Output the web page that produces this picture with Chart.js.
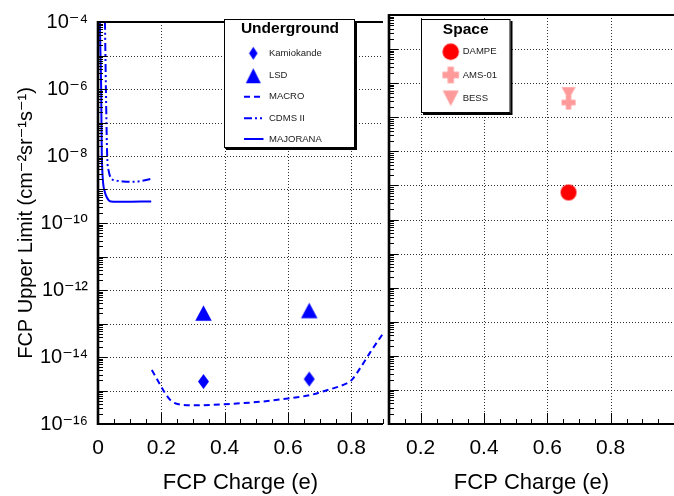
<!DOCTYPE html>
<html>
<head>
<meta charset="utf-8">
<script src="https://cdn.jsdelivr.net/npm/chart.js@4/dist/chart.umd.min.js"></script>
<style>
html,body{margin:0;padding:0;background:#fff;overflow:hidden;width:674px;height:496px;}
canvas{position:absolute;top:0;}
#cA{left:0;}
#cB{left:380px;}
</style>
</head>
<body>
<canvas id="cA" width="392" height="496"></canvas>
<canvas id="cB" width="303" height="496"></canvas>
<script>
// ---------------- data ----------------
const kamiokandeX = [0.333, 0.667];
const kamiokandeY = [1.85e-15, 2.2e-15];
const lsdX = [0.333, 0.667];
const lsdY = [2.05e-13, 2.45e-13];
const macroX = [0.17, 0.19, 0.21, 0.23, 0.26, 0.3, 0.4, 0.5, 0.6, 0.667, 0.72, 0.78, 0.8, 0.83, 0.86, 0.9];
const macroY = [4.1e-15, 1.9e-15, 8.9e-16, 5.0e-16, 3.8e-16, 3.6e-16, 3.9e-16, 4.5e-16, 5.8e-16, 7.2e-16, 1.0e-15, 1.55e-15, 2.0e-15, 5.0e-15, 1.4e-14, 5.0e-14];
const cdmsX = [0.022, 0.025, 0.029, 0.034, 0.041, 0.057, 0.08, 0.108, 0.14, 0.168];
const cdmsY = [1e-4, 1e-6, 1e-8, 3.5e-9, 2.2e-9, 1.86e-9, 1.74e-9, 1.7e-9, 1.82e-9, 2.1e-9];
const majoranaX = [0.006, 0.007, 0.010, 0.012, 0.021, 0.028, 0.041, 0.08, 0.168];
const majoranaY = [1e-4, 2.6e-5, 1e-6, 1e-8, 8.9e-10, 5.8e-10, 4.4e-10, 4.3e-10, 4.4e-10];
const dampeX = [0.667];
const dampeY = [6.2e-10];
const ams01X = [0.667];
const ams01Y = [2.7e-7];
const bessX = [0.667];
const bessY = [5.0e-7];

const yTickValues = [1e-16, 1e-15, 1e-14, 1e-13, 1e-12, 1e-11, 1e-10, 1e-9, 1e-8, 1e-7, 1e-6, 1e-5, 1e-4];
const yTickLabels = ['10\u207B\u00B9\u2076', '', '10\u207B\u00B9\u2074', '', '10\u207B\u00B9\u00B2', '', '10\u207B\u00B9\u2070', '', '10\u207B\u2078', '', '10\u207B\u2076', '', '10\u207B\u2074'];
const xTicksLeft = [0, 0.2, 0.4, 0.6, 0.8];
const xTickLabelsLeft = ['0', '0.2', '0.4', '0.6', '0.8'];
const xTicksRight = [0.2, 0.4, 0.6, 0.8];
const xTickLabelsRight = ['0.2', '0.4', '0.6', '0.8'];

const undergroundNames = ['Kamiokande', 'LSD', 'MACRO', 'CDMS II', 'MAJORANA'];
const spaceNames = ['DAMPE', 'AMS-01', 'BESS'];
const yTitle = 'FCP Upper Limit (cm\u207B\u00B2sr\u207B\u00B9s\u207B\u00B9)';
const xTitle = 'FCP Charge (e)';

// ---------------- styles ----------------
const BLUE = '#0000ff', RED = '#ff0000', PINK = '#ff9a9a';
const FONT = "'Liberation Sans', Arial, Helvetica, 'DejaVu Sans', sans-serif";
const DASH_MACRO = [6, 4];
const DASH_CDMS = [8, 3, 2, 3, 2, 3];

function shape(kind, w, h, color) {
  const c = document.createElement('canvas');
  c.width = Math.ceil(w) + 2; c.height = Math.ceil(h) + 2;
  const g = c.getContext('2d');
  g.fillStyle = color;
  g.translate(c.width / 2, c.height / 2);
  g.beginPath();
  if (kind === 'diamond') { g.moveTo(0, -h/2); g.lineTo(w/2, 0); g.lineTo(0, h/2); g.lineTo(-w/2, 0); g.closePath(); }
  else if (kind === 'tri') { g.moveTo(0, -h/2); g.lineTo(w/2, h/2); g.lineTo(-w/2, h/2); g.closePath(); }
  else if (kind === 'invtri') { g.moveTo(-w/2, -h/2); g.lineTo(w/2, -h/2); g.lineTo(0, h/2); g.closePath(); }
  else if (kind === 'circle') { g.arc(0, 0, w/2, 0, Math.PI * 2); }
  else if (kind === 'cross') { const t = w * 0.38; g.rect(-w/2, -t/2, w, t); g.rect(-t/2, -h/2, t, h); }
  g.fill();
  return c;
}

const pDiamond = shape('diamond', 11, 15, BLUE);
const pTri = shape('tri', 16.5, 15.5, BLUE);
const pCircle = shape('circle', 16, 16, RED);
const pCross = shape('cross', 14, 14, PINK);
const pInvTri = shape('invtri', 14, 12.5, PINK);

const lDiamond = shape('diamond', 8.5, 13, BLUE);
const lTri = shape('tri', 15, 15, BLUE);
const lCircle = shape('circle', 16.5, 16.5, RED);
const lCross = shape('cross', 16.5, 16.5, PINK);
const lInvTri = shape('invtri', 16, 15.5, PINK);

function pts(xs, ys) { return xs.map((x, i) => ({x: x, y: ys[i]})); }

// dotted grid, drawn from the scales' own ticks
const gridPlugin = {
  id: 'dotgrid',
  beforeDatasetsDraw(chart) {
    const {ctx, chartArea: a, scales} = chart;
    ctx.save();
    ctx.strokeStyle = '#2e2e2e';
    ctx.lineWidth = 1;
    ctx.setLineDash([1, 2]);
    ctx.beginPath();
    scales.y.ticks.forEach(t => {
      const py = Math.round(scales.y.getPixelForValue(t.value)) + 0.5;
      ctx.moveTo(a.left, py); ctx.lineTo(a.right, py);
    });
    scales.x.ticks.forEach(t => {
      const px = Math.round(scales.x.getPixelForValue(t.value)) + 0.5;
      ctx.moveTo(px, a.top); ctx.lineTo(px, a.bottom);
    });
    ctx.stroke();
    ctx.restore();
  }
};

// frame + inner ticks
function framePlugin(xMajor, xMinorFrom, xMinorTo) {
  return {
    id: 'frame',
    afterDraw(chart) {
      const {ctx, chartArea: a, scales} = chart;
      const x = scales.x, y = scales.y;
      ctx.save();
      ctx.strokeStyle = '#000';
      ctx.lineWidth = 1;
      ctx.beginPath();
      for (let e = -16; e < -4; e++) {
        for (let m = 2; m <= 9; m++) {
          const py = Math.round(y.getPixelForValue(m * Math.pow(10, e))) + 0.5;
          ctx.moveTo(a.left, py); ctx.lineTo(a.left + 5, py);
        }
      }
      yTickValues.forEach(v => {
        const py = Math.round(y.getPixelForValue(v)) + 0.5;
        ctx.moveTo(a.left, py); ctx.lineTo(a.left + 9, py);
      });
      for (let v = xMinorFrom; v <= xMinorTo + 1e-9; v += 0.05) {
        const px = Math.round(x.getPixelForValue(v)) + 0.5;
        ctx.moveTo(px, a.bottom); ctx.lineTo(px, a.bottom - 5);
      }
      xMajor.forEach(v => {
        const px = Math.round(x.getPixelForValue(v)) + 0.5;
        ctx.moveTo(px, a.bottom); ctx.lineTo(px, a.bottom - 11);
      });
      ctx.stroke();
      ctx.lineWidth = 2;
      ctx.beginPath();
      ctx.moveTo(a.left, a.top); ctx.lineTo(a.right, a.top);
      ctx.moveTo(a.left, a.bottom); ctx.lineTo(a.right, a.bottom);
      ctx.stroke();
      ctx.lineWidth = 2.6;
      ctx.beginPath();
      ctx.moveTo(a.left, a.top - 1); ctx.lineTo(a.left, a.bottom + 1);
      ctx.stroke();
      ctx.restore();
    }
  };
}

function legendBox(ctx, x0, y0, x1, y1, title, tx, ty) {
  ctx.save();
  ctx.fillStyle = '#000';
  ctx.fillRect(x0 + 2, y0 + 2, x1 - x0, y1 - y0);
  ctx.fillStyle = '#fff';
  ctx.fillRect(x0, y0, x1 - x0, y1 - y0);
  ctx.strokeStyle = '#000'; ctx.lineWidth = 1;
  ctx.strokeRect(x0 + 0.5, y0 + 0.5, x1 - x0 - 1, y1 - y0 - 1);
  ctx.fillStyle = '#000';
  ctx.font = 'bold 15.5px ' + FONT;
  ctx.textAlign = 'center'; ctx.textBaseline = 'middle';
  ctx.fillText(title, tx, ty);
  ctx.restore();
}
function legendText(ctx, text, x, y) {
  ctx.save();
  ctx.fillStyle = '#1a1a1a';
  ctx.font = '9.5px ' + FONT;
  ctx.textAlign = 'left'; ctx.textBaseline = 'middle';
  ctx.fillText(text, x, y);
  ctx.restore();
}
function legendImg(ctx, img, x, y) {
  ctx.drawImage(img, x - img.width / 2, y - img.height / 2);
}
function legendLine(ctx, dash, x0, x1, y) {
  ctx.save();
  ctx.strokeStyle = BLUE; ctx.lineWidth = 2; ctx.setLineDash(dash);
  ctx.beginPath(); ctx.moveTo(x0, y); ctx.lineTo(x1, y); ctx.stroke();
  ctx.restore();
}

const legendA = {
  id: 'legendA',
  afterDraw(chart) {
    const ctx = chart.ctx;
    legendBox(ctx, 224, 19, 355, 148, 'Underground', 290, 28.5);
    const ys = [53.3, 75.7, 96.7, 118.3, 139];
    legendImg(ctx, lDiamond, 253.3, ys[0]);
    legendImg(ctx, lTri, 253.3, ys[1]);
    legendLine(ctx, DASH_MACRO, 244, 263.5, ys[2]);
    legendLine(ctx, DASH_CDMS, 244, 263.5, ys[3]);
    legendLine(ctx, [], 244, 263.5, ys[4]);
    undergroundNames.forEach((n, i) => legendText(ctx, n, 269, ys[i]));
  }
};
const legendB = {
  id: 'legendB',
  afterDraw(chart) {
    const ctx = chart.ctx;
    legendBox(ctx, 41, 19, 130.5, 113, 'Space', 85.7, 29.5);
    const ys = [51.7, 75, 98.3];
    legendImg(ctx, lCircle, 70.7, ys[0]);
    legendImg(ctx, lCross, 70.7, ys[1]);
    legendImg(ctx, lInvTri, 70.7, ys[2]);
    spaceNames.forEach((n, i) => legendText(ctx, n, 82.7, ys[i]));
  }
};

Chart.defaults.font.family = FONT;
Chart.defaults.color = '#000';
Chart.defaults.animation = false;

function yScale(showLabels, width) {
  return {
    type: 'logarithmic', min: 1e-16, max: 1e-4,
    grid: {display: false, drawTicks: false}, border: {display: false},
    afterBuildTicks: s => { s.ticks = yTickValues.map(v => ({value: v})); },
    afterFit: s => { s.width = width; },
    ticks: {
      display: showLabels, autoSkip: false, padding: 10,
      font: {size: 20}, color: '#000',
      callback: (v, i) => yTickLabels[i]
    },
    title: showLabels ? {display: true, text: yTitle, font: {size: 20}, color: '#000', padding: {top: 14, bottom: 0}} : {display: false}
  };
}
function xScale(min, max, ticks, labels) {
  return {
    type: 'linear', min: min, max: max,
    grid: {display: false, drawTicks: false}, border: {display: false},
    afterBuildTicks: s => { s.ticks = ticks.map(v => ({value: v})); },
    afterFit: s => { s.height = 72; },
    ticks: {autoSkip: false, padding: 12, font: {size: 21}, color: '#000', maxRotation: 0,
      callback: (v, i) => labels[i]},
    title: {display: true, text: xTitle, font: {size: 22}, color: '#000', padding: {top: 0, bottom: 0}}
  };
}

new Chart(document.getElementById('cA'), {
  type: 'scatter',
  data: {
    datasets: [
      {label: 'MACRO', data: pts(macroX, macroY), showLine: true, borderColor: BLUE, borderWidth: 2, borderDash: DASH_MACRO, pointRadius: 0, cubicInterpolationMode: 'monotone'},
      {label: 'CDMS II', data: pts(cdmsX, cdmsY), showLine: true, borderColor: BLUE, borderWidth: 2, borderDash: DASH_CDMS, pointRadius: 0, cubicInterpolationMode: 'monotone'},
      {label: 'MAJORANA', data: pts(majoranaX, majoranaY), showLine: true, borderColor: BLUE, borderWidth: 2, pointRadius: 0, cubicInterpolationMode: 'monotone'},
      {label: 'Kamiokande', data: pts(kamiokandeX, kamiokandeY), pointStyle: pDiamond, pointRadius: 8},
      {label: 'LSD', data: pts(lsdX, lsdY), pointStyle: pTri, pointRadius: 8}
    ]
  },
  options: {
    responsive: false, devicePixelRatio: 1,
    layout: {padding: {top: 15, left: 0, right: 3, bottom: 0}},
    plugins: {legend: {display: false}, tooltip: {enabled: false}},
    scales: {x: xScale(0, 0.9, xTicksLeft, xTickLabelsLeft), y: yScale(true, 98)}
  },
  plugins: [gridPlugin, framePlugin(xTicksLeft, 0, 0.9), legendA]
});

new Chart(document.getElementById('cB'), {
  type: 'scatter',
  data: {
    datasets: [
      {label: 'DAMPE', data: pts(dampeX, dampeY), pointStyle: pCircle, pointRadius: 8},
      {label: 'AMS-01', data: pts(ams01X, ams01Y), pointStyle: pCross, pointRadius: 8},
      {label: 'BESS', data: pts(bessX, bessY), pointStyle: pInvTri, pointRadius: 8}
    ]
  },
  options: {
    responsive: false, devicePixelRatio: 1,
    layout: {padding: {top: 15, left: 0, right: 3, bottom: 0}},
    plugins: {legend: {display: false}, tooltip: {enabled: false}},
    scales: {x: xScale(0.1, 1.0, xTicksRight, xTickLabelsRight), y: yScale(false, 9)}
  },
  plugins: [gridPlugin, framePlugin([0.2, 0.4, 0.6, 0.8, 1.0], 0.15, 1.0), legendB]
});
</script>
</body>
</html>
